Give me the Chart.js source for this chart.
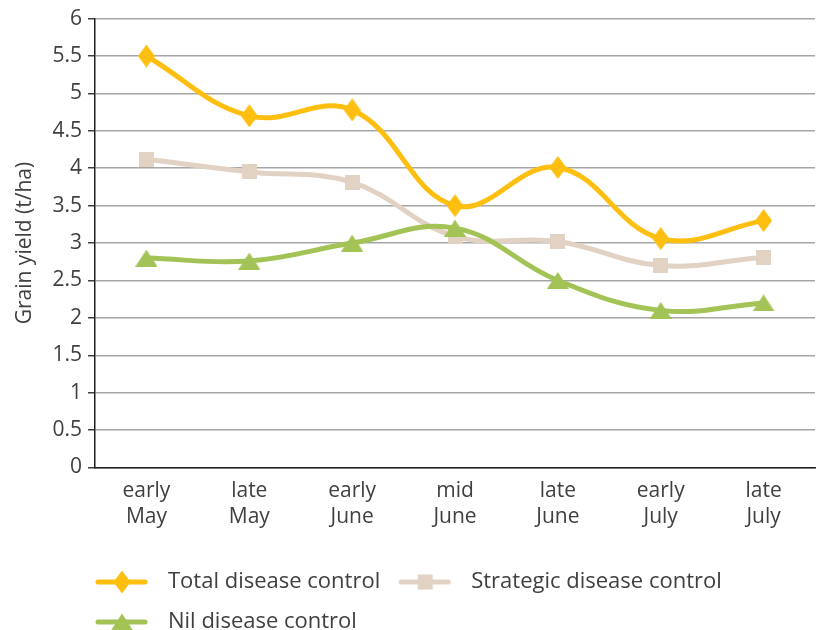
<!DOCTYPE html>
<html>
<head>
<meta charset="utf-8">
<script src="https://cdn.jsdelivr.net/npm/chart.js@4"></script>
<style>
  html, body { margin: 0; padding: 0; background: #fff; overflow: hidden; }
  #outer { width: 817px; height: 630px; overflow: hidden; }
  #wrap { width: 824px; height: 630px; }
</style>
</head>
<body>
<div id="outer"><div id="wrap"><canvas id="chart"></canvas></div></div>
<script>
// data
const periods = [['early', 'May'], ['late', 'May'], ['early', 'June'], ['mid', 'June'], ['late', 'June'], ['early', 'July'], ['late', 'July']];
const totalControl = [5.5, 4.7, 4.78, 3.5, 4.01, 3.06, 3.3];
const strategicControl = [4.12, 3.95, 3.81, 3.09, 3.02, 2.7, 2.81];
const nilControl = [2.8, 2.76, 3.0, 3.2, 2.5, 2.1, 2.2];
const yTicks = [0, 0.5, 1, 1.5, 2, 2.5, 3, 3.5, 4, 4.5, 5, 5.5, 6];

const GOLD = '#FEBF10';
const BEIGE = '#E1D2C4';
const GREEN = '#A3C356';
const TEXT = '#404040';
const FONT = 'Open Sans';
const FSIZE = 21;

const SIZES = { diamond: [17, 23], square: [15, 15], triangle: [22, 17] };

function drawShape(ctx, shape, cx, cy, w, h) {
  ctx.beginPath();
  if (shape === 'diamond') {
    ctx.moveTo(cx, cy - h / 2); ctx.lineTo(cx + w / 2, cy);
    ctx.lineTo(cx, cy + h / 2); ctx.lineTo(cx - w / 2, cy);
  } else if (shape === 'square') {
    ctx.rect(cx - w / 2, cy - h / 2, w, h);
  } else {
    ctx.moveTo(cx, cy - h / 2); ctx.lineTo(cx + w / 2, cy + h / 2);
    ctx.lineTo(cx - w / 2, cy + h / 2);
  }
  ctx.closePath();
  ctx.fill();
}

// marker shapes as small canvases
function marker(shape, color) {
  const c = document.createElement('canvas');
  const [w, h] = SIZES[shape];
  c.width = w; c.height = h;
  const ctx = c.getContext('2d');
  ctx.fillStyle = color;
  drawShape(ctx, shape, w / 2, h / 2, w, h);
  return c;
}

// legend swatch: line with marker in the middle
function swatch(shape, color) {
  const c = document.createElement('canvas');
  c.width = 62; c.height = 24;
  const ctx = c.getContext('2d');
  ctx.strokeStyle = color;
  ctx.lineWidth = 5;
  ctx.lineCap = 'round';
  ctx.beginPath(); ctx.moveTo(3, 12); ctx.lineTo(50, 12); ctx.stroke();
  const [w, h] = SIZES[shape];
  ctx.fillStyle = color;
  drawShape(ctx, shape, 27, 12, w, h);
  return c;
}

const series = [
  { label: 'Total disease control', data: totalControl, color: GOLD, shape: 'diamond' },
  { label: 'Strategic disease control', data: strategicControl, color: BEIGE, shape: 'square' },
  { label: 'Nil disease control', data: nilControl, color: GREEN, shape: 'triangle' },
];

// shift legend so it starts at the plot's left edge
const legendShift = {
  id: 'legendShift',
  afterLayout(chart) {
    const lg = chart.legend;
    const pad = lg.options.labels.padding;
    lg.left = chart.chartArea.left - pad;
    lg.top += 13;
  },
};

new Chart(document.getElementById('chart'), {
  type: 'line',
  data: {
    labels: periods,
    datasets: series.map((s, i) => ({
      label: s.label,
      data: s.data,
      borderColor: s.color,
      backgroundColor: s.color,
      borderWidth: 5,
      tension: 0.4,
      pointStyle: marker(s.shape, s.color),
      legendStyle: swatch(s.shape, s.color),
      order: 3 - i,
    })),
  },
  options: {
    responsive: true,
    maintainAspectRatio: false,
    animation: false,
    layout: { padding: { top: 9, right: 2, left: 0, bottom: 0 } },
    font: { family: FONT },
    plugins: {
      tooltip: { enabled: false },
      legend: {
        position: 'bottom',
        align: 'start',
        fullSize: false,
        labels: {
          usePointStyle: true,
          pointStyleWidth: 62,
          padding: 18,
          color: TEXT,
          font: { family: FONT, size: 22 },
          generateLabels(chart) {
            return chart.data.datasets.map((ds, i) => ({
              text: ds.label,
              pointStyle: ds.legendStyle,
              fontColor: TEXT,
              lineWidth: 0,
              datasetIndex: i,
              hidden: false,
            }));
          },
        },
      },
    },
    scales: {
      x: {
        offset: true,
        grid: { display: false, drawTicks: false },
        border: { display: true, color: '#202020', width: 1.5 },
        ticks: { color: TEXT, font: { family: FONT, size: FSIZE, lineHeight: 1.25 }, padding: 10, maxRotation: 0 },
      },
      y: {
        min: 0,
        max: 6,
        afterBuildTicks(axis) { axis.ticks = yTicks.map(v => ({ value: v })); },
        afterFit(axis) { axis.width = 95; },
        grid: { color: '#a6a6a6', lineWidth: 1.5, tickLength: 7, tickColor: '#404040' },
        border: { display: true, color: '#202020', width: 1.5 },
        ticks: { color: TEXT, font: { family: FONT, size: FSIZE }, padding: 6, callback: v => String(v) },
        title: { display: true, text: 'Grain yield (t/ha)', color: TEXT, font: { family: FONT, size: FSIZE }, padding: { top: 12, bottom: 6 } },
      },
    },
  },
  plugins: [legendShift],
});
</script>
</body>
</html>
